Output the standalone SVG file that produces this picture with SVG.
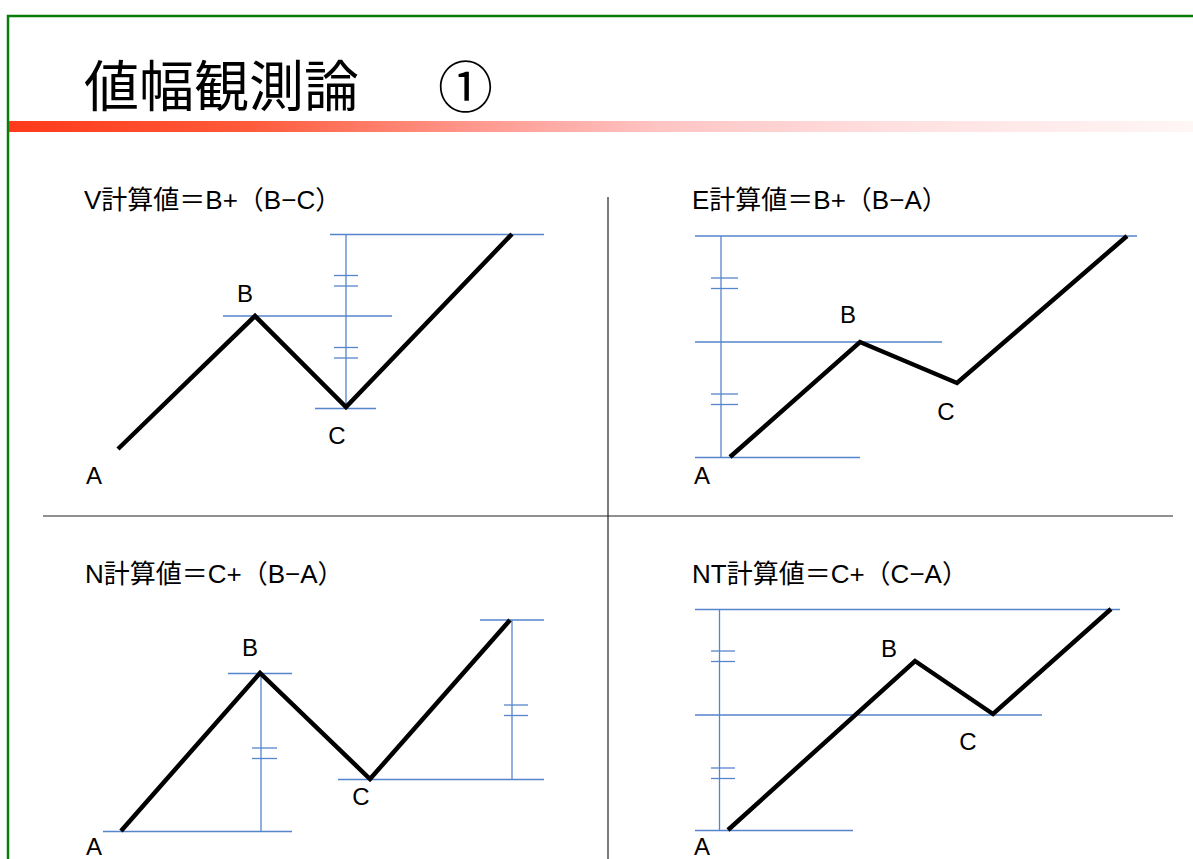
<svg xmlns="http://www.w3.org/2000/svg" width="1193" height="859" viewBox="0 0 1193 859">
  <defs>
    <linearGradient id="bar" x1="0" y1="0" x2="1" y2="0">
      <stop offset="0" stop-color="#ff3a1a"/>
      <stop offset="0.2" stop-color="#ff5a3a"/>
      <stop offset="0.4" stop-color="#ff9a90"/>
      <stop offset="0.55" stop-color="#ffc4c4"/>
      <stop offset="0.75" stop-color="#ffe0e0"/>
      <stop offset="1" stop-color="#fff6f6"/>
    </linearGradient>
  </defs>
  <style>
    .frame { fill: none; stroke: #0a7d0a; stroke-width: 2.5; }
    .div { stroke: #222; stroke-width: 1.2; fill: none; }
    .guide { stroke: #5585cc; stroke-width: 1.3; fill: none; }
    .wave { stroke: #000; stroke-width: 4.5; fill: none; stroke-linejoin: miter; stroke-linecap: butt; }
    .ttl { font-family: "Noto Sans CJK JP", "Noto Sans CJK SC", sans-serif; font-size: 55px; fill: #000; }
    .formula { font-family: "Liberation Sans", "Noto Sans CJK JP", sans-serif; font-size: 26px; fill: #000; }
    .pt { font-family: "Liberation Sans", Arial, sans-serif; font-size: 24px; fill: #000; text-anchor: middle; }
  </style>
  <rect width="1193" height="859" fill="#fff"/>
  <path class="frame" d="M8,859 V16 H1193"/>
  <g id="title">
    <text class="ttl" x="84" y="106">値幅観測論</text>
    <text class="ttl" x="438" y="107" font-size="60">①</text>
    <rect x="9" y="121" width="1184" height="11" fill="url(#bar)"/>
  </g>
  <g id="dividers">
    <line class="div" x1="608" y1="197" x2="608" y2="859"/>
    <line class="div" x1="43" y1="516" x2="1173" y2="516"/>
  </g>

  <g id="panel-v">
    <text class="formula" x="84" y="209">V計算値＝B+（B−C）</text>
    <g class="guide">
      <line x1="330" y1="234.5" x2="544" y2="234.5"/>
      <line x1="223" y1="316" x2="392" y2="316"/>
      <line x1="315" y1="408.5" x2="376" y2="408.5"/>
      <line x1="346" y1="234.5" x2="346" y2="408.5"/>
      <line x1="334" y1="275.5" x2="358" y2="275.5"/>
      <line x1="334" y1="286" x2="358" y2="286"/>
      <line x1="334" y1="347.5" x2="358" y2="347.5"/>
      <line x1="334" y1="358" x2="358" y2="358"/>
    </g>
    <polyline class="wave" points="118,449 255,316 346,407 512,234"/>
    <text class="pt" x="245" y="302">B</text>
    <text class="pt" x="337" y="444">C</text>
    <text class="pt" x="94" y="484">A</text>
  </g>

  <g id="panel-e">
    <text class="formula" x="692" y="209">E計算値＝B+（B−A）</text>
    <g class="guide">
      <line x1="695" y1="236" x2="1137" y2="236"/>
      <line x1="695" y1="342" x2="942" y2="342"/>
      <line x1="695" y1="457.5" x2="860" y2="457.5"/>
      <line x1="721" y1="236" x2="721" y2="457.5"/>
      <line x1="711" y1="278" x2="738" y2="278"/>
      <line x1="711" y1="288.5" x2="738" y2="288.5"/>
      <line x1="711" y1="394" x2="738" y2="394"/>
      <line x1="711" y1="404.5" x2="738" y2="404.5"/>
    </g>
    <polyline class="wave" points="730,457 860,342 957,383 1127,236"/>
    <text class="pt" x="848" y="323">B</text>
    <text class="pt" x="946" y="420">C</text>
    <text class="pt" x="702" y="484">A</text>
  </g>

  <g id="panel-n">
    <text class="formula" x="85" y="583">N計算値＝C+（B−A）</text>
    <g class="guide">
      <line x1="228" y1="673.5" x2="292" y2="673.5"/>
      <line x1="103" y1="831.5" x2="292" y2="831.5"/>
      <line x1="261" y1="673.5" x2="261" y2="831.5"/>
      <line x1="252" y1="748" x2="277" y2="748"/>
      <line x1="252" y1="758.5" x2="277" y2="758.5"/>
      <line x1="338" y1="779.5" x2="544" y2="779.5"/>
      <line x1="480" y1="620" x2="544" y2="620"/>
      <line x1="512" y1="620" x2="512" y2="779.5"/>
      <line x1="504" y1="705" x2="528" y2="705"/>
      <line x1="504" y1="715.5" x2="528" y2="715.5"/>
    </g>
    <polyline class="wave" points="121,831 260,673 370,779 510,620"/>
    <text class="pt" x="250" y="656">B</text>
    <text class="pt" x="361" y="805">C</text>
    <text class="pt" x="94" y="855">A</text>
  </g>

  <g id="panel-nt">
    <text class="formula" x="692" y="583">NT計算値＝C+（C−A）</text>
    <g class="guide">
      <line x1="695" y1="609.5" x2="1120" y2="609.5"/>
      <line x1="695" y1="715" x2="1042" y2="715"/>
      <line x1="695" y1="830.5" x2="853" y2="830.5"/>
      <line x1="719.5" y1="609.5" x2="719.5" y2="830.5"/>
      <line x1="711" y1="651" x2="735" y2="651"/>
      <line x1="711" y1="661.5" x2="735" y2="661.5"/>
      <line x1="711" y1="768" x2="735" y2="768"/>
      <line x1="711" y1="778.5" x2="735" y2="778.5"/>
    </g>
    <polyline class="wave" points="728,830 915,661 993,714 1111,609"/>
    <text class="pt" x="889" y="657">B</text>
    <text class="pt" x="968" y="750">C</text>
    <text class="pt" x="702" y="855">A</text>
  </g>
</svg>
